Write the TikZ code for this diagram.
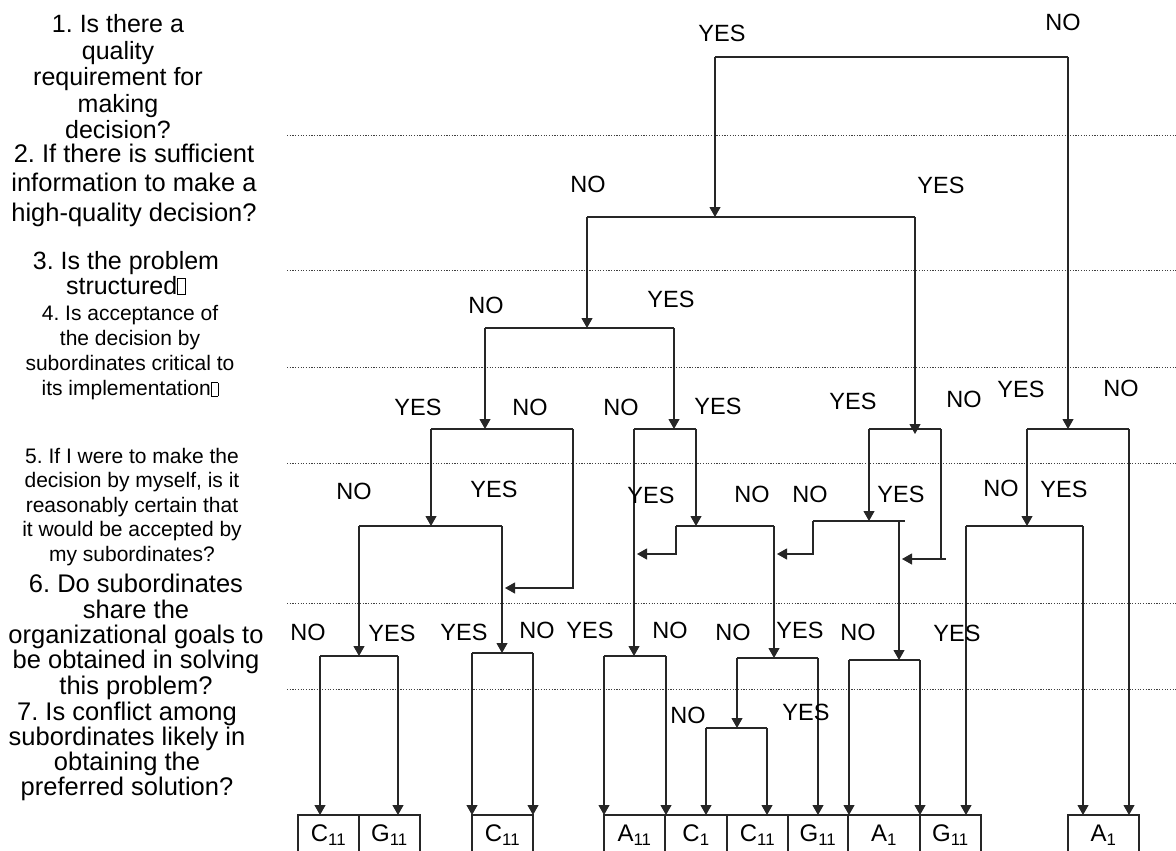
\documentclass[tikz,border=0pt]{standalone}
\usepackage{fontspec}
\setmainfont{Liberation Sans}
\usetikzlibrary{arrows.meta}
\frenchspacing
\newcommand{\tofubox}{{\fboxsep=0pt\fboxrule=0.6pt\fbox{\rule{0pt}{0.62em}\hspace{0.3em}}}}
\tikzset{
  ln/.style={draw=black!85, line width=1.1pt},
  arr/.style={ln, -{Triangle[length=10pt,width=11pt]}},
  dots/.style={draw=black!75, line width=0.8pt, dash pattern=on 1.2pt off 1.5pt},
  yn/.style={font=\fontsize{23.5}{26}\selectfont, inner sep=0pt},
  qbig/.style={align=center, inner sep=0pt},
  res/.style={font=\fontsize{24}{26}\selectfont, inner sep=0pt}
}
\begin{document}
\begin{tikzpicture}[x=1pt,y=-1pt]
\fill[white] (0,0) rectangle (1176,851);
\useasboundingbox (0,0) rectangle (1176,851);

% dotted separators
\foreach \yy in {135,270,367,463,603,689}
  \draw[dots] (287,\yy) -- (1176,\yy);

% questions
\node[qbig, font=\fontsize{25}{26.5}\selectfont] (q1) at (118,77)
  {1. Is there a\\quality\\requirement for\\making\\decision?};
\node[qbig, font=\fontsize{25.5}{29.5}\selectfont] (q2) at (134,185)
  {2. If there is sufficient\\information to make a\\high-quality decision?};
\node[qbig, font=\fontsize{25}{25}\selectfont] (q3) at (126,273)
  {3. Is the problem\\structured\tofubox};
\node[qbig, font=\fontsize{21}{25}\selectfont] (q4) at (130,353)
  {4. Is acceptance of\\the decision by\\subordinates critical to\\its implementation\tofubox};
\node[qbig, font=\fontsize{21}{24.5}\selectfont] (q5) at (132,507)
  {5. If I were to make the\\decision by myself, is it\\reasonably certain that\\it would be accepted by\\my subordinates?};
\node[qbig, font=\fontsize{25.5}{25.3}\selectfont] (q6) at (136,637)
  {6. Do subordinates\\share the\\organizational goals to\\be obtained in solving\\this problem?};
\node[qbig, font=\fontsize{25.5}{25}\selectfont] (q7) at (127,751)
  {7. Is conflict among\\subordinates likely in\\obtaining the\\preferred solution?};

% bar coordinates
\coordinate (b1L) at (715,57);  \coordinate (b1R) at (1068,57);
\coordinate (b2L) at (587,217); \coordinate (b2c) at (715,217); \coordinate (b2R) at (915,217);
\coordinate (b3L) at (485,328); \coordinate (b3c) at (587,328); \coordinate (b3R) at (674,328);
\coordinate (b4aL) at (431,429); \coordinate (b4ac) at (485,429); \coordinate (b4aR) at (573,429);
\coordinate (b4bL) at (634,429); \coordinate (b4bc) at (674,429); \coordinate (b4bR) at (696,429);
\coordinate (b4cL) at (869,429); \coordinate (b4cc) at (915,434); \coordinate (b4cR) at (941,429);
\coordinate (b4dL) at (1027,429); \coordinate (b4dc) at (1068,429); \coordinate (b4dR) at (1129,429);
\coordinate (b5aL) at (359,526); \coordinate (b5ac) at (431,526); \coordinate (b5aR) at (502,526);
\coordinate (b5bL) at (676,526); \coordinate (b5bc) at (696,526); \coordinate (b5bR) at (774,526);
\coordinate (b5cL) at (813,521); \coordinate (b5cc) at (869,521); \coordinate (b5cD) at (899,521); \coordinate (b5cR) at (905,521);
\coordinate (b5dL) at (966,526); \coordinate (b5dc) at (1027,526); \coordinate (b5dR) at (1083,526);
\coordinate (b6aL) at (320,656); \coordinate (b6ac) at (359,656); \coordinate (b6aR) at (398,656);
\coordinate (b6bL) at (472,653); \coordinate (b6bc) at (502,653); \coordinate (b6bR) at (533,653);
\coordinate (b6cL) at (604,656); \coordinate (b6cc) at (634,656); \coordinate (b6cR) at (666,656);
\coordinate (b6dL) at (737,658); \coordinate (b6dc) at (774,658); \coordinate (b6dR) at (818,658);
\coordinate (b6eL) at (849,660); \coordinate (b6ec) at (899,660); \coordinate (b6eR) at (920,660);
\coordinate (b7L) at (706,728); \coordinate (b7c) at (737,728); \coordinate (b7R) at (767,728);

% side-entry points
\coordinate (s1) at (505,588);
\coordinate (s2) at (637,554);
\coordinate (s3) at (777,554);
\coordinate (s4) at (902,559);

% bottom targets
\foreach \nm/\xx in {t1/320,t2/398,t3/472,t4/533,t5/604,t6/666,t7/706,t8/767,t9/818,t10/849,t11/920,t12/966,t13/1083,t14/1129}
  \coordinate (\nm) at (\xx,815);

% horizontal bars
\draw[ln] (b1L) -- (b1R);
\draw[ln] (b2L) -- (b2R);
\draw[ln] (b3L) -- (b3R);
\draw[ln] (b4aL) -- (b4aR);
\draw[ln] (b4bL) -- (b4bR);
\draw[ln] (b4cL) -- (b4cR);
\draw[ln] (b4dL) -- (b4dR);
\draw[ln] (b5aL) -- (b5aR);
\draw[ln] (b5bL) -- (b5bR);
\draw[ln] (b5cL) -- (b5cR);
\draw[ln] (b5dL) -- (b5dR);
\draw[ln] (b6aL) -- (b6aR);
\draw[ln] (b6bL) -- (b6bR);
\draw[ln] (b6cL) -- (b6cR);
\draw[ln] (b6dL) -- (b6dR);
\draw[ln] (b6eL) -- (b6eR);
\draw[ln] (b7L) -- (b7R);

% vertical connectors
\draw[arr] (b1L) -- (b2c);
\draw[arr] (b1R) -- (b4dc);
\draw[arr] (b2L) -- (b3c);
\draw[arr] (b2R) -- (b4cc);
\draw[arr] (b3L) -- (b4ac);
\draw[arr] (b3R) -- (b4bc);
\draw[arr] (b4aL) -- (b5ac);
\draw[arr] (b4aR) |- (s1);
\draw[arr] (b5aL) -- (b6ac);
\draw[arr] (b5aR) -- (b6bc);
\draw[arr] (b4bL) -- (b6cc);
\draw[arr] (b4bR) -- (b5bc);
\draw[arr] (b5bL) |- (s2);
\draw[arr] (b5bR) -- (b6dc);
\draw[arr] (b6dL) -- (b7c);
\draw[arr] (b4cL) -- (b5cc);
\draw[arr] (b4cR) |- (s4);
\draw[ln] (941,559) -- (946,559);
\draw[arr] (b5cL) |- (s3);
\draw[arr] (b5cD) -- (b6ec);
\draw[arr] (b4dL) -- (b5dc);
\draw[arr] (b4dR) -- (t14);
\draw[arr] (b5dL) -- (t12);
\draw[arr] (b5dR) -- (t13);
\draw[arr] (b6aL) -- (t1);
\draw[arr] (b6aR) -- (t2);
\draw[arr] (b6bL) -- (t3);
\draw[arr] (b6bR) -- (t4);
\draw[arr] (b6cL) -- (t5);
\draw[arr] (b6cR) -- (t6);
\draw[arr] (b7L) -- (t7);
\draw[arr] (b7R) -- (t8);
\draw[arr] (b6dR) -- (t9);
\draw[arr] (b6eL) -- (t10);
\draw[arr] (b6eR) -- (t11);

% YES / NO labels
\node[yn] (l1) at (722,33) {YES};
\node[yn] (l2) at (1063,22) {NO};
\node[yn] (l3) at (588,184) {NO};
\node[yn] (l4) at (941,185) {YES};
\node[yn] (l5) at (486,305) {NO};
\node[yn] (l6) at (671,299) {YES};
\node[yn] (l7) at (418,407) {YES};
\node[yn] (l8) at (530,407) {NO};
\node[yn] (l9) at (621,407) {NO};
\node[yn] (l10) at (718,406) {YES};
\node[yn] (l11) at (853,401) {YES};
\node[yn] (l12) at (964,399) {NO};
\node[yn] (l13) at (1021,389) {YES};
\node[yn] (l14) at (1121,388) {NO};
\node[yn] (l15) at (354,491) {NO};
\node[yn] (l16) at (494,489) {YES};
\node[yn] (l17) at (651,495) {YES};
\node[yn] (l18) at (752,494) {NO};
\node[yn] (l19) at (810,494) {NO};
\node[yn] (l20) at (901,494) {YES};
\node[yn] (l21) at (1001,488) {NO};
\node[yn] (l22) at (1064,489) {YES};
\node[yn] (l23) at (308,632) {NO};
\node[yn] (l24) at (392,633) {YES};
\node[yn] (l25) at (464,632) {YES};
\node[yn] (l26) at (537,630) {NO};
\node[yn] (l27) at (590,630) {YES};
\node[yn] (l28) at (670,630) {NO};
\node[yn] (l29) at (733,632) {NO};
\node[yn] (l30) at (800,630) {YES};
\node[yn] (l31) at (858,632) {NO};
\node[yn] (l32) at (957,633) {YES};
\node[yn] (l33) at (688,715) {NO};
\node[yn] (l34) at (806,712) {YES};

% result boxes (open at the bottom edge)
\draw[ln] (298,851) |- (420,815) -- (420,851);
\draw[ln] (359,815) -- (359,851);
\draw[ln] (472,851) |- (533,815) -- (533,851);
\draw[ln] (604,851) |- (981,815) -- (981,851);
\foreach \xx in {665,727,788,848,920}
  \draw[ln] (\xx,815) -- (\xx,851);
\draw[ln] (1068,851) |- (1139,815) -- (1139,851);

\node[res] (r1) at (328.5,835) {C\textsubscript{11}};
\node[res] (r2) at (389.5,835) {G\textsubscript{11}};
\node[res] (r3) at (502.5,835) {C\textsubscript{11}};
\node[res] (r4) at (634.5,835) {A\textsubscript{11}};
\node[res] (r5) at (696,835) {C\textsubscript{1}};
\node[res] (r6) at (757.5,835) {C\textsubscript{11}};
\node[res] (r7) at (818,835) {G\textsubscript{11}};
\node[res] (r8) at (884,835) {A\textsubscript{1}};
\node[res] (r9) at (950.5,835) {G\textsubscript{11}};
\node[res] (r10) at (1103.5,835) {A\textsubscript{1}};
\end{tikzpicture}
\end{document}
